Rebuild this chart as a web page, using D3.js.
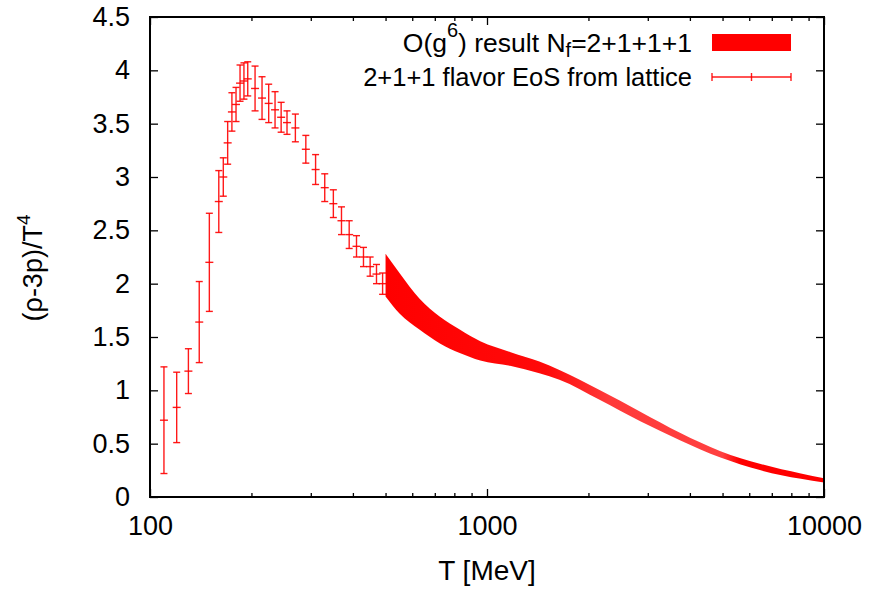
<!DOCTYPE html>
<html>
<head>
<meta charset="utf-8">
<script src="https://cdn.jsdelivr.net/npm/d3@7"></script>
<style>
    body { margin: 0; background: #fff; }
    text { font-family: "Liberation Sans", Arial, Helvetica, sans-serif; }
</style>
</head>
<body>
<div id="chart"></div>
<script>
// lattice points: T [MeV], value, error
const latticeT = [110, 120, 130, 140, 150, 160, 165, 170, 175, 180, 185, 190, 195, 205, 215, 225, 235, 245, 255, 270, 290, 310, 330, 350, 370, 390, 410, 430, 450, 470, 490];
const latticeVal = [0.72, 0.84, 1.18, 1.64, 2.20, 2.77, 3.00, 3.32, 3.61, 3.68, 3.88, 3.90, 3.92, 3.83, 3.74, 3.69, 3.63, 3.56, 3.51, 3.46, 3.26, 3.07, 2.90, 2.75, 2.59, 2.46, 2.35, 2.25, 2.16, 2.09, 2.00];
const latticeErr = [0.50, 0.33, 0.21, 0.38, 0.46, 0.29, 0.18, 0.20, 0.18, 0.16, 0.17, 0.17, 0.16, 0.21, 0.20, 0.18, 0.17, 0.14, 0.11, 0.13, 0.13, 0.14, 0.13, 0.13, 0.13, 0.13, 0.10, 0.09, 0.09, 0.09, 0.10];

// O(g^6) band: T [MeV], upper, lower
const bandT = [500, 550, 630, 725, 830, 955, 1170, 1430, 1640, 2165, 2850, 3750, 4930, 6490, 8540, 10000];
const bandHi = [2.28, 2.10, 1.86, 1.69, 1.57, 1.46, 1.36, 1.27, 1.19, 1.00, 0.80, 0.60, 0.43, 0.31, 0.22, 0.175];
const bandLo = [1.88, 1.72, 1.57, 1.44, 1.35, 1.28, 1.23, 1.16, 1.10, 0.91, 0.71, 0.53, 0.37, 0.25, 0.17, 0.135];

const xMajor = [100, 1000, 10000];
const xMinor = [200, 300, 400, 500, 600, 700, 800, 900, 2000, 3000, 4000, 5000, 6000, 7000, 8000, 9000];
const yTicks = [0, 0.5, 1, 1.5, 2, 2.5, 3, 3.5, 4, 4.5];

const legendLattice = "2+1+1 flavor EoS from lattice";

{
    const layout = { width: 871, height: 592, left: 150, right: 824, top: 17, bottom: 497 };
    const red = "#ff0000";

    const svg = d3.select("#chart")
        .append("svg")
        .attr("width", layout.width)
        .attr("height", layout.height);

    const x = d3.scaleLog()
        .domain([100, 10000])
        .range([layout.left, layout.right]);

    const y = d3.scaleLinear()
        .domain([0, 4.5])
        .range([layout.bottom, layout.top]);

    const bandData = bandT.map((t, i) => ({ t: t, hi: bandHi[i], lo: bandLo[i] }));
    const lattice = latticeT.map((t, i) => ({ t: t, v: latticeVal[i], e: latticeErr[i] }));

    // band fill gets a bit lighter in the middle, like the reference
    const grad = svg.append("defs")
        .append("linearGradient")
        .attr("id", "band-grad")
        .attr("gradientUnits", "userSpaceOnUse")
        .attr("x1", x(500)).attr("x2", x(10000))
        .attr("y1", 0).attr("y2", 0);
    [[500, "#ff0000"], [1500, "#ff0a0a"], [2300, "#ff3a3a"], [5000, "#ff4040"], [5600, "#ff0000"], [10000, "#ff0000"]]
        .forEach(s => {
            grad.append("stop")
                .attr("offset", (x(s[0]) - x(500)) / (x(10000) - x(500)))
                .attr("stop-color", s[1]);
        });

    const area = d3.area()
        .x(d => x(d.t))
        .y0(d => y(d.lo))
        .y1(d => y(d.hi))
        .curve(d3.curveMonotoneX);

    svg.append("path")
        .datum(bandData)
        .attr("d", area)
        .attr("fill", "url(#band-grad)")
        .attr("stroke", "none");

    // error bars
    const cap = 3.5;
    const bars = svg.append("g")
        .attr("stroke", red)
        .attr("stroke-width", 1.4)
        .attr("stroke-opacity", 0.9);

    const bar = bars.selectAll("g.bar")
        .data(lattice)
        .enter()
        .append("g")
        .attr("class", "bar");

    bar.append("line")
        .attr("x1", d => x(d.t)).attr("x2", d => x(d.t))
        .attr("y1", d => y(d.v - d.e)).attr("y2", d => y(d.v + d.e));
    bar.append("line")
        .attr("x1", d => x(d.t) - cap).attr("x2", d => x(d.t) + cap)
        .attr("y1", d => y(d.v + d.e)).attr("y2", d => y(d.v + d.e));
    bar.append("line")
        .attr("x1", d => x(d.t) - cap).attr("x2", d => x(d.t) + cap)
        .attr("y1", d => y(d.v - d.e)).attr("y2", d => y(d.v - d.e));
    bar.append("line")
        .attr("x1", d => x(d.t) - 4).attr("x2", d => x(d.t) + 4)
        .attr("y1", d => y(d.v)).attr("y2", d => y(d.v));

    // axes, ticks pointing inward on all four sides
    const axisStyle = g => {
        g.select(".domain").remove();
        g.selectAll(".tick line").attr("stroke", "#000").attr("stroke-width", 1.3);
        g.selectAll("text").attr("fill", "#000").style("font-size", "27px");
    };

    svg.append("g")
        .attr("transform", `translate(0,${layout.bottom})`)
        .call(d3.axisBottom(x).tickValues(xMajor).tickSize(-8).tickPadding(19).tickFormat(d3.format("d")))
        .call(axisStyle);
    svg.append("g")
        .attr("transform", `translate(0,${layout.bottom})`)
        .call(d3.axisBottom(x).tickValues(xMinor).tickSize(-4).tickFormat(""))
        .call(axisStyle);
    svg.append("g")
        .attr("transform", `translate(0,${layout.top})`)
        .call(d3.axisTop(x).tickValues(xMajor).tickSize(-8).tickFormat(""))
        .call(axisStyle);
    svg.append("g")
        .attr("transform", `translate(0,${layout.top})`)
        .call(d3.axisTop(x).tickValues(xMinor).tickSize(-4).tickFormat(""))
        .call(axisStyle);
    svg.append("g")
        .attr("transform", `translate(${layout.left},0)`)
        .call(d3.axisLeft(y).tickValues(yTicks).tickSize(-8).tickPadding(20).tickFormat(d3.format("~g")))
        .call(axisStyle);
    svg.append("g")
        .attr("transform", `translate(${layout.right},0)`)
        .call(d3.axisRight(y).tickValues(yTicks).tickSize(-8).tickFormat(""))
        .call(axisStyle);

    svg.append("rect")
        .attr("x", layout.left)
        .attr("y", layout.top)
        .attr("width", layout.right - layout.left)
        .attr("height", layout.bottom - layout.top)
        .attr("fill", "none")
        .attr("stroke", "#000")
        .attr("stroke-width", 2);

    // axis titles
    svg.append("text")
        .attr("x", (layout.left + layout.right) / 2)
        .attr("y", 580)
        .attr("text-anchor", "middle")
        .style("font-size", "28px")
        .text("T [MeV]");

    const yl = svg.append("text")
        .attr("transform", "translate(42,268) rotate(-90)")
        .attr("text-anchor", "middle")
        .style("font-size", "27px");
    yl.append("tspan").text("(ρ-3p)/T");
    yl.append("tspan").attr("dy", -12).style("font-size", "19px").text("4");

    // legend
    const legendX = 692;
    const l1 = svg.append("text")
        .attr("x", legendX)
        .attr("y", 52)
        .attr("text-anchor", "end")
        .style("font-size", "26.5px");
    l1.append("tspan").text("O(g");
    l1.append("tspan").attr("dy", -15).style("font-size", "20px").text("6");
    l1.append("tspan").attr("dy", 15).text(") result N");
    l1.append("tspan").attr("dy", 5).style("font-size", "20px").text("f");
    l1.append("tspan").attr("dy", -5).text("=2+1+1+1");

    svg.append("rect")
        .attr("x", 712)
        .attr("y", 34)
        .attr("width", 79)
        .attr("height", 17)
        .attr("fill", red);

    svg.append("text")
        .attr("x", legendX)
        .attr("y", 86)
        .attr("text-anchor", "end")
        .style("font-size", "25.5px")
        .text(legendLattice);

    const lg = svg.append("g")
        .attr("stroke", red)
        .attr("stroke-width", 1.4)
        .attr("stroke-opacity", 0.9);
    lg.append("line").attr("x1", 712).attr("x2", 791).attr("y1", 77).attr("y2", 77);
    [712, 791].forEach(px => {
        lg.append("line").attr("x1", px).attr("x2", px).attr("y1", 73).attr("y2", 81);
    });
    lg.append("line").attr("x1", 751.5).attr("x2", 751.5).attr("y1", 73).attr("y2", 81);
}
</script>
</body>
</html>
